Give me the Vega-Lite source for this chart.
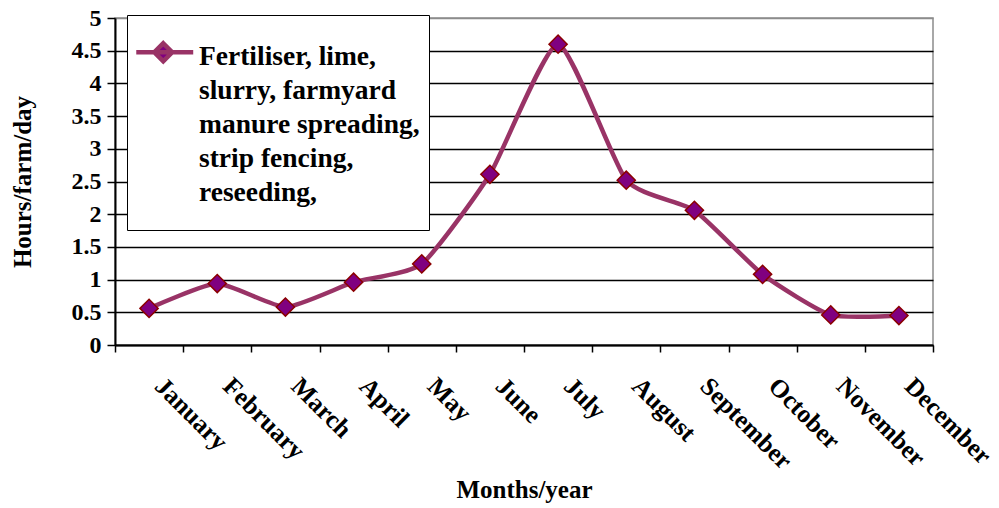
{
  "$schema": "https://vega.github.io/schema/vega-lite/v6.json",
  "width": 818,
  "height": 327,
  "autosize": "none",
  "padding": {"left": 115, "top": 18, "right": 66, "bottom": 163},
  "background": "white",
  "config": {
    "view": {"stroke": "#8c8c8c", "strokeWidth": 1.5},
    "font": "Liberation Serif",
    "lineBreak": "|"
  },
  "data": {
    "values": [
      {"month": "January", "hours": 0.56},
      {"month": "February", "hours": 0.94},
      {"month": "March", "hours": 0.58},
      {"month": "April", "hours": 0.96},
      {"month": "May", "hours": 1.24},
      {"month": "June", "hours": 2.61},
      {"month": "July", "hours": 4.6},
      {"month": "August", "hours": 2.52},
      {"month": "September", "hours": 2.06},
      {"month": "October", "hours": 1.08},
      {"month": "November", "hours": 0.46},
      {"month": "December", "hours": 0.45}
    ]
  },
  "encoding": {
    "x": {
      "field": "month",
      "type": "ordinal",
      "sort": null,
      "scale": {"type": "band", "paddingInner": 0, "paddingOuter": 0},
      "axis": {
        "title": "Months/year",
        "titleFont": "Liberation Serif",
        "titleFontSize": 25,
        "titleFontWeight": "bold",
        "titleColor": "black",
        "titlePadding": 3,
        "tickBand": "extent",
        "ticks": true,
        "tickSize": 7,
        "tickColor": "black",
        "tickWidth": 1.5,
        "domainColor": "black",
        "domainWidth": 2,
        "grid": false,
        "labelAngle": 45,
        "labelAlign": "left",
        "labelBaseline": "top",
        "labelPadding": 21,
        "labelOffset": 18,
        "labelFont": "Liberation Serif",
        "labelFontSize": 25.5,
        "labelFontWeight": "bold",
        "labelColor": "black",
        "labelLimit": 300
      }
    },
    "y": {
      "field": "hours",
      "type": "quantitative",
      "scale": {"domain": [0, 5], "nice": false, "zero": true},
      "axis": {
        "title": "Hours/farm/day",
        "titleFont": "Liberation Serif",
        "titleFontSize": 25,
        "titleFontWeight": "bold",
        "titleColor": "black",
        "titlePadding": 36,
        "values": [0, 0.5, 1, 1.5, 2, 2.5, 3, 3.5, 4, 4.5, 5],
        "format": "~f",
        "labelFont": "Liberation Serif",
        "labelFontSize": 24,
        "labelFontWeight": "bold",
        "labelColor": "black",
        "labelPadding": 6,
        "tickSize": 8,
        "tickColor": "black",
        "tickWidth": 1.5,
        "domainColor": "black",
        "domainWidth": 2,
        "grid": true,
        "gridColor": {"condition": {"test": "datum.value === 5", "value": "#8c8c8c"}, "value": "black"},
        "gridWidth": 1.4
      }
    }
  },
  "layer": [
    {
      "mark": {"type": "line", "interpolate": "cardinal", "tension": 0.45, "strokeWidth": 4.5},
      "encoding": {
        "color": {
          "datum": "Fertiliser, lime,|slurry, farmyard|manure spreading,|strip fencing,|reseeding,",
          "type": "nominal",
          "scale": {"range": ["#993366"]},
          "legend": {
            "title": " ",
            "titleOrient": "bottom",
            "titleFontSize": 8,
            "titlePadding": 7,
            "orient": "none",
            "legendX": 12,
            "legendY": -3,
            "padding": 9,
            "fillColor": "white",
            "strokeColor": "black",
            "cornerRadius": 0,
            "labelFont": "Liberation Serif",
            "labelFontSize": 27.5,
            "labelFontWeight": "bold",
            "labelColor": "black",
            "labelBaseline": "top",
            "labelOffset": 26,
            "labelLimit": 400,
            "symbolType": "M-1.14,0.61H2.42M0.547,0.05L1.107,0.61L0.547,1.17L-0.013,0.61Z",
            "symbolSize": 1024,
            "symbolStrokeColor": "#993366",
            "symbolFillColor": "#800080",
            "symbolStrokeWidth": 4.5,
            "encoding": {"labels": {"lineHeight": {"value": 34}}}
          }
        }
      }
    },
    {
      "mark": {
        "type": "point",
        "shape": "diamond",
        "filled": true,
        "fill": "#800080",
        "stroke": "#8B0000",
        "strokeWidth": 1.5,
        "size": 330,
        "opacity": 1
      }
    }
  ]
}
